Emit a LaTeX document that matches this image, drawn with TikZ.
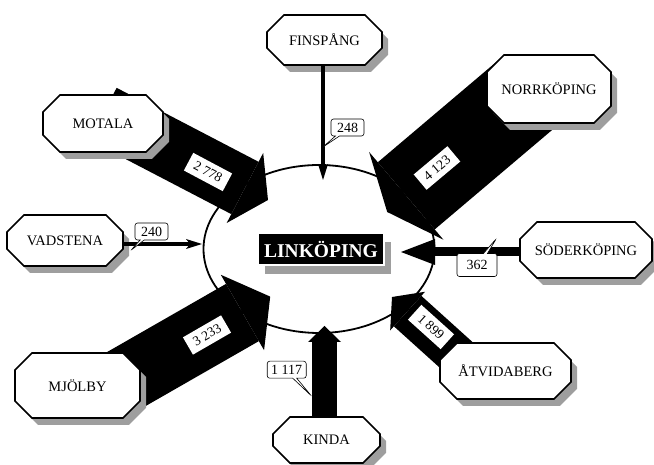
\documentclass[tikz,border=0pt]{standalone}
\usepackage{fontspec}
\setmainfont{Liberation Serif}
\usetikzlibrary{arrows.meta,shapes.geometric,shapes.callouts,shadows}
\definecolor{shadowc}{gray}{0.62}
\pgfdeclarelayer{ringlayer}
\pgfdeclarelayer{flowlayer}
\pgfsetlayers{ringlayer,flowlayer,main}
\tikzset{
  pics/citybox/.style n args={2}{code={
    \pgfmathsetmacro\octA{#1/2}\pgfmathsetmacro\octB{#2/2}
    \begin{scope}[shift={(6,-7)}]
      \fill[shadowc] (-\octA+17,\octB) -- (\octA-17,\octB) -- (\octA,\octB-17) -- (\octA,-\octB+17)
        -- (\octA-17,-\octB) -- (-\octA+17,-\octB) -- (-\octA,-\octB+17) -- (-\octA,\octB-17) -- cycle;
    \end{scope}
    \draw[fill=white, line width=1.7pt] (-\octA+17,\octB) -- (\octA-17,\octB) -- (\octA,\octB-17) -- (\octA,-\octB+17)
        -- (\octA-17,-\octB) -- (-\octA+17,-\octB) -- (-\octA,-\octB+17) -- (-\octA,\octB-17) -- cycle;
  }},
  citytext/.style={font=\fontsize{14.5}{16}\selectfont, inner sep=0pt},
  flow/.style n args={3}{draw=black, line width=#1pt, -{Triangle[width=#2pt, length=#3pt, line width'=0pt]}},
  thinflow/.style={draw=black, line width=3.3pt, -{Stealth[length=16pt, width=10pt, inset=4pt, line width'=0pt]}},
  flowlabel/.style={fill=white, font=\fontsize{13.5}{14}\selectfont, minimum width=44pt, minimum height=20pt, inner sep=1pt},
  bubble/.style={rectangle callout, draw, fill=white, rounded corners=2.5pt, line width=0.6pt,
    font=\fontsize{14}{15}\selectfont, inner sep=1pt, callout pointer width=4pt},
}
\newcommand\placecity[6]{%
  \pic at (#2,#3) {citybox={#4}{#5}};
  \node[citytext, minimum width=#4pt, minimum height=#5pt] (#1) at (#2,#3) {#6};
}
\begin{document}
\begin{tikzpicture}[x=1pt,y=1pt]
\useasboundingbox (0,0) rectangle (654,465);

\begin{pgfonlayer}{ringlayer}
  \node[ellipse, draw, line width=1.8pt, minimum width=231pt, minimum height=168pt, inner sep=0pt] (ring) at (319,216) {};
\end{pgfonlayer}

% city boxes
\placecity{fin}{324.5}{425}{115}{50}{FINSPÅNG}
\placecity{norr}{549}{376}{124}{68}{NORRKÖPING}
\placecity{mot}{103}{341.5}{120}{57}{MOTALA}
\placecity{vad}{65}{224.5}{116}{51}{VADSTENA}
\placecity{sod}{586}{215}{132}{56}{SÖDERKÖPING}
\placecity{mjo}{77.5}{79.5}{125}{65}{MJÖLBY}
\placecity{atv}{505.5}{94}{131}{56}{ÅTVIDABERG}
\placecity{kin}{326.5}{25}{107}{46}{KINDA}

% centre
\node[fill=black, text=white, font=\bfseries\fontsize{19.5}{20}\selectfont,
  minimum width=126pt, minimum height=32pt, inner sep=0pt,
  draw=gray!60, double=white, double distance=1.2pt, line width=0.4pt,
  drop shadow={shadow xshift=7pt, shadow yshift=-9pt, fill=shadowc, opacity=1}] (link) at (321,216) {LINKÖPING};

% arrow tips
\coordinate (motT) at (268,265);
\coordinate (norrT) at (387.2,253);
\coordinate (mjoT) at (270.2,168.4);
\coordinate (kinT) at (324.5,139);
\coordinate (atvT) at (392,168);
\coordinate (sodT) at (401,213);
\coordinate (vadT) at (202,221);
\coordinate (finT) at (323,285);

\begin{pgfonlayer}{flowlayer}
  \draw[flow={59}{79}{26}] ([shift={(0,9.5)}]mot.center) -- (motT);
  \draw[flow={88}{115}{25}] ([shift={(-21.4,-4.1)}]norr.center) -- (norrT);
  \draw[flow={66}{87}{32}] ([shift={(35,-1.5)}]mjo.center) -- (mjoT);
  \draw[flow={25}{33}{16}] ([shift={(-2,0)}]kin.center) -- (kinT);
  \draw[flow={41}{52}{21}] ([shift={(-31.5,0)}]atv.center) -- (atvT);
  \draw[flow={9}{26}{34}] ([shift={(0,-2)}]sod.center) -- (sodT);
\end{pgfonlayer}

\draw[thinflow] (vad.east |- vadT) -- (vadT);
\draw[thinflow] (fin.south -| finT) -- (finT);

% flow labels
\node[flowlabel, rotate=-28] (l2778) at (208,293) {2 778};
\node[flowlabel, rotate=40] (l4123) at (437,297) {4 123};
\node[flowlabel, rotate=30] (l3233) at (207,130) {3 233};
\node[flowlabel, rotate=-42] (l1899) at (431,138) {1 899};

% callouts
\node[bubble, minimum width=33pt, minimum height=17pt, callout relative pointer={(-14.5,-11.5)}] (c248) at (347.5,337.5) {248};
\node[bubble, minimum width=33pt, minimum height=17pt, callout relative pointer={(-11.5,-10.5)}] (c240) at (151.5,233.5) {240};
\node[bubble, minimum width=40pt, minimum height=23pt, callout relative pointer={(11,15)}] (c362) at (477,200) {362};
\node[bubble, minimum width=39pt, minimum height=17pt, callout relative pointer={(16.6,-17.6)}] (c1117) at (286.7,95.3) {1 117};
\end{tikzpicture}
\end{document}
